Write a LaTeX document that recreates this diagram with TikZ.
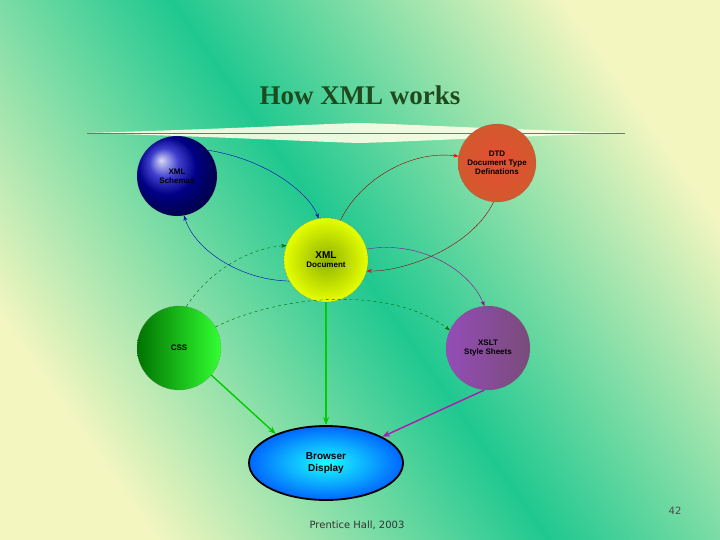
\documentclass[tikz,border=0pt]{standalone}
\usepackage{fontspec}
\setmainfont{Liberation Sans}
\newfontfamily\serifb{Liberation Serif}
\newfontfamily\tahoma{DejaVu Sans}
\usetikzlibrary{arrows.meta,shapes.geometric}
\definecolor{bgg}{HTML}{1FC890}
\definecolor{bgy}{HTML}{F4F6C0}
\definecolor{ttl}{HTML}{1E4A1E}
\begin{document}
\begin{tikzpicture}[x=1pt,y=-1pt,
 circ/.style={circle,minimum size=80pt,inner sep=0pt,align=center,font=\bfseries\fontsize{8}{9}\selectfont,draw=black!60,densely dotted},
 cn/.style={-{Stealth[length=5pt]},thin},
 thk/.style={-{Stealth[length=8pt]},line width=1.4pt}]
\useasboundingbox (0,0) rectangle (720,540);
\shade[top color=bgy,bottom color=bgy,middle color=bgg,shading angle=-55] (0,0) rectangle (720,540);
\node[font=\serifb\bfseries\fontsize{27}{30}\selectfont,text=ttl] (title) at (360,95) {How XML works};
\fill[white!90!yellow,opacity=0.9] (87,133) .. controls (250,128) and (320,124) .. (360,123) .. controls (400,124) and (470,128) .. (625,133) .. controls (470,138) and (400,142) .. (360,143) .. controls (320,142) and (250,138) .. (87,133) -- cycle;
\draw[ttl!70,line width=0.6pt] (87,133) -- (625,133);
\shade[ball color=blue!75!black] (177,176) circle (40);
\shade[inner color=red!55!brown!90,outer color=brown!70!red] (497,163) circle (39);
\shade[inner color=yellow!80!green!70!black,outer color=yellow!90!green] (326,260) circle (42);
\shade[left color=green!45!black,right color=green!80] (179,348) circle (42);
\shade[left color=violet!80!blue!70,right color=violet!50!black!70] (488,348) circle (42);
\node[circ,minimum size=80pt] (sch) at (177,176) {XML\\Schemas};
\node[circ,minimum size=78pt] (dtd) at (497,163) {DTD\\Document Type\\Definations};
\node[circ,minimum size=84pt] (doc) at (326,260) {\fontsize{10}{12}\selectfont XML\\Document};
\node[circ,minimum size=84pt] (css) at (179,348) {CSS};
\node[circ,minimum size=84pt] (xslt) at (488,348) {XSLT\\Style Sheets};
\shade[inner color=cyan!90!white,outer color=blue!60!cyan] (326,463) ellipse [x radius=77,y radius=37];
\node[ellipse,minimum width=154pt,minimum height=74pt,draw=black,line width=1.8pt,align=center,font=\bfseries\fontsize{10}{12}\selectfont] (br) at (326,463) {Browser\\Display};
\draw[cn,blue!70!black] (sch.40) .. controls (270,160) and (310,195) .. (doc.100);
\draw[cn,blue!70!black] (doc.-150) .. controls (240,280) and (195,250) .. (sch.-80);
\draw[cn,red!60!black,-{Stealth[length=5pt,color=red]}] (doc.70) .. controls (360,180) and (410,150) .. (dtd.170);
\draw[cn,red!60!black,-{Stealth[length=5pt,color=red]}] (dtd.-95) .. controls (470,250) and (400,272) .. (doc.-15);
\draw[cn,violet!80!magenta] (doc.15) .. controls (420,240) and (470,270) .. (xslt.95);
\draw[cn,green!40!black,dashed] (css.80) .. controls (210,270) and (250,248) .. (doc.160);
\draw[cn,green!40!black,dashed] (css.30) .. controls (280,295) and (390,285) .. (xslt.155);
\draw[thk,green!80!black] (css.-40) -- (br.150);
\draw[thk,green!80!black] (doc.south) -- (br.north);
\draw[thk,violet!70!magenta!90] (xslt.-95) -- (br.25);
\node[font=\tahoma\fontsize{10}{12}\selectfont,text=black!80] (foot) at (357,525) {Prentice Hall, 2003};
\node[font=\tahoma\fontsize{10}{12}\selectfont,text=black!70] (num) at (675,511) {42};
\end{tikzpicture}
\end{document}
